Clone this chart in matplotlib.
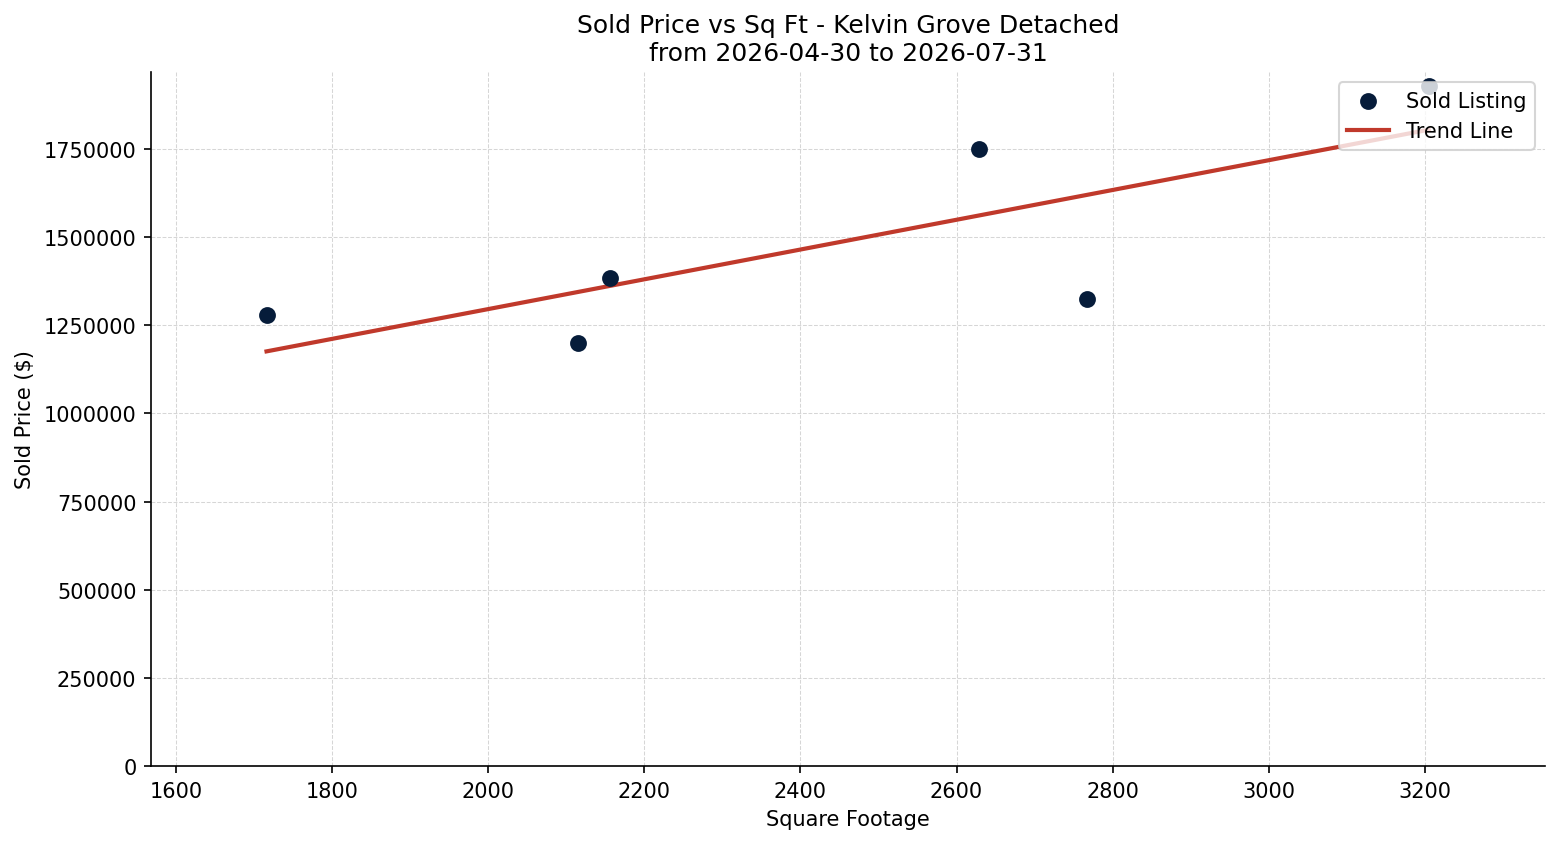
import numpy as np
import matplotlib
matplotlib.use("Agg")
import matplotlib.pyplot as plt

# sold listings
sqft = [1716, 2115, 2156, 2629, 2767, 3205]
price = [1280000, 1200000, 1385000, 1750000, 1325000, 1930000]

area = "Kelvin Grove Detached"
start_date = "2026-04-30"
end_date = "2026-07-31"

x = np.array(sqft)
y = np.array(price)

# simple linear trend
slope, intercept = np.polyfit(x, y, 1)
xs = np.array([x.min(), x.max()])
ys = slope * xs + intercept

fig = plt.figure(figsize=(10.4, 5.633), dpi=150)
ax = plt.gca()
ax.scatter(x, y, s=50, color="#061c3a", label="Sold Listing", zorder=3)
ax.plot(xs, ys, color="#c0392b", linewidth=2, label="Trend Line", zorder=2)

ax.set_title("Sold Price vs Sq Ft - %s\nfrom %s to %s" % (area, start_date, end_date), fontsize=12)
ax.set_xlabel("Square Footage")
ax.set_ylabel("Sold Price ($)")
ax.set_xlim(x.min() - 148, x.max() + 149)
ax.set_ylim(0, y.max() * 1.02)
ax.ticklabel_format(style="plain", axis="y")
ax.grid(True, linestyle="--", linewidth=0.5, color="#cccccc", alpha=0.8)
ax.set_axisbelow(True)
ax.spines["top"].set_visible(False)
ax.spines["right"].set_visible(False)
ax.legend(loc="upper right")

plt.subplots_adjust(left=0.0968, right=0.9904, bottom=0.0923, top=0.9136)
plt.savefig("out.png", dpi=150)
